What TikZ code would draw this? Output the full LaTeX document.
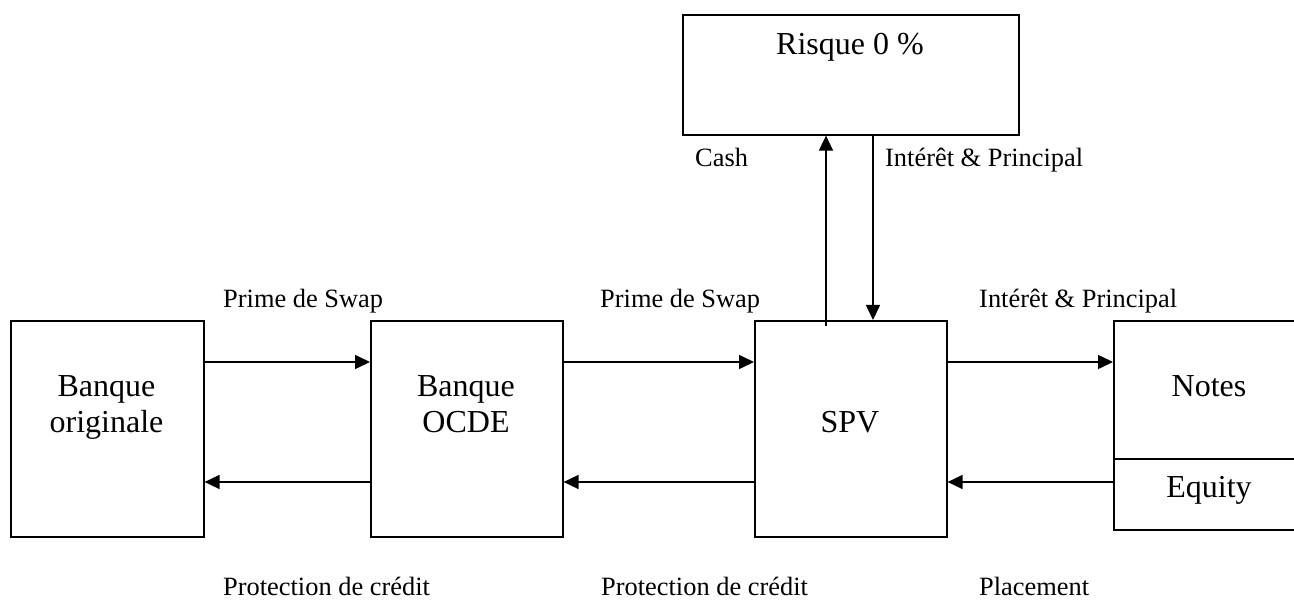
\documentclass[tikz,border=0pt]{standalone}
\usepackage{fontspec}
\setmainfont{Liberation Serif}
\usetikzlibrary{arrows.meta}
\begin{document}
\begin{tikzpicture}[x=1pt,y=-1pt,
  box/.style={draw, line width=1.6pt, inner sep=0pt, anchor=north west},
  arr/.style={line width=1.6pt, -{Triangle[length=15pt,width=14pt]}},
  lbl/.style={font=\fontsize{26.4}{31}\selectfont, anchor=base west, inner sep=0pt},
  btxt/.style={font=\fontsize{32}{36}\selectfont, align=center, inner sep=0pt, anchor=base}]
\clip (0,0) rectangle (1294,601);
\useasboundingbox (0,0) rectangle (1294,601);
% boxes
\node[box, minimum width=193pt, minimum height=216pt] (bo) at (10,320) {};
\node[box, minimum width=192pt, minimum height=216pt] (ocde) at (370,320) {};
\node[box, minimum width=192pt, minimum height=216pt] (spv) at (754,320) {};
\node[box, minimum width=200pt, minimum height=138pt] (notes) at (1113,320) {};
\node[box, minimum width=200pt, minimum height=71pt] (equity) at (1113,458) {};
\node[box, minimum width=336pt, minimum height=120pt] (risk) at (682,14) {};
% box texts (base anchor = baseline of last line)
\node[btxt] (tbo) at (106.5,433) {Banque\\originale};
\node[btxt] (tocde) at (466,433) {Banque\\OCDE};
\node[btxt] (tspv) at (850,433) {SPV};
\node[btxt] (tnotes) at (1209,397) {Notes};
\node[btxt] (tequity) at (1209,497) {Equity};
\node[btxt] (trisk) at (850,55) {Risque 0 \%};
% horizontal arrows
\draw[arr] (bo.east |- 0,362) -- (ocde.west |- 0,362);
\draw[arr] (ocde.west |- 0,482) -- (bo.east |- 0,482);
\draw[arr] (ocde.east |- 0,362) -- (spv.west |- 0,362);
\draw[arr] (spv.west |- 0,482) -- (ocde.east |- 0,482);
\draw[arr] (spv.east |- 0,362) -- (notes.west |- 0,362);
\draw[arr] (equity.west |- 0,482) -- (spv.east |- 0,482);
% vertical arrows
\coordinate (cashstart) at (826,326);
\draw[arr] (cashstart) -- (risk.south -| cashstart);
\coordinate (ipx) at (873,0);
\draw[arr] (risk.south -| ipx) -- (spv.north -| ipx);
% labels
\node[lbl] (l1) at (223,308) {Prime de Swap};
\node[lbl] (l2) at (600,308) {Prime de Swap};
\node[lbl] (l3) at (979,308) {Intérêt \& Principal};
\node[lbl] (l4) at (223,595) {Protection de crédit};
\node[lbl] (l5) at (601,595) {Protection de crédit};
\node[lbl] (l6) at (979,595) {Placement};
\node[lbl] (l7) at (695,167) {Cash};
\node[lbl] (l8) at (885,167) {Intérêt \& Principal};
\end{tikzpicture}
\end{document}
